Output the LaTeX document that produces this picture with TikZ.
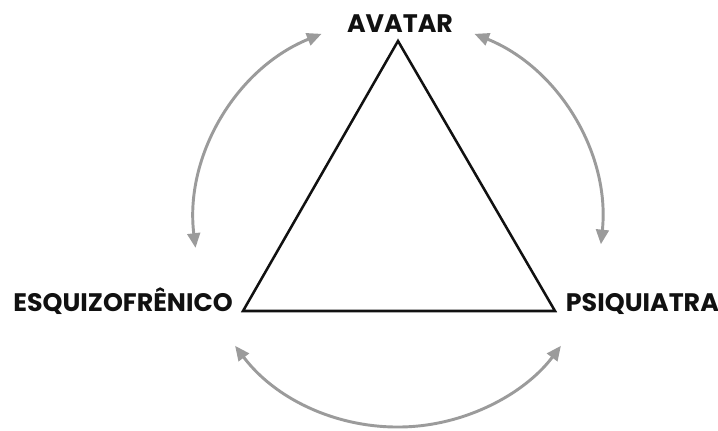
\documentclass[tikz,border=0pt]{standalone}
\usepackage{fontspec}
\setmainfont{Poppins}
\usepackage{xcolor}
\usepackage{tikz}
\usetikzlibrary{positioning,arrows.meta,calc}
\definecolor{inkblack}{RGB}{17,17,17}
\definecolor{arcgray}{RGB}{155,155,155}
\tikzset{
  corner/.style={inner sep=0pt, outer sep=0pt},
  role/.style={font=\fontsize{19}{21}\selectfont\bfseries, text=inkblack, inner sep=0pt},
  side/.style={draw=inkblack, line width=1.9pt, line join=miter},
  swap/.style={{Triangle[length=11pt,width=9.5pt]}-{Triangle[length=11pt,width=9.5pt]},
               arcgray, line width=2.2pt}
}

\begin{document}
\begin{tikzpicture}[x=0.75pt, y=0.75pt]
        \useasboundingbox (0,0) rectangle (718,430);
        \coordinate (apex) at (398,389);
        \coordinate (bl) at (243,119);
        \coordinate (br) at (555,119);
        \coordinate (mid) at (398,207);
        \draw[side] (apex) -- (bl) -- (br) -- cycle;
        \node[role, above=6pt of apex, xshift=1.5pt] (avatar) {AVATAR};
        \node[role, left=7.5pt of bl, anchor=base east] (esq) {ESQUIZOFRÊNICO};
        \node[role, right=8pt of br, anchor=base west] (psi) {PSIQUIATRA};
        % arcs round the triangle
        \coordinate (l1) at ($(mid)+(112:204)$);
        \coordinate (r1) at ($(mid)+(68:204)$);
        \coordinate (b1) at ($(mid)+(217:204)$);
        \draw[swap] (l1) arc[start angle=112, end angle=187, radius=153pt];
        \draw[swap] (r1) arc[start angle=68, end angle=-6, radius=153pt];
        \draw[swap] (b1) arc[start angle=217, end angle=323, radius=153pt];
      \end{tikzpicture}
\end{document}
